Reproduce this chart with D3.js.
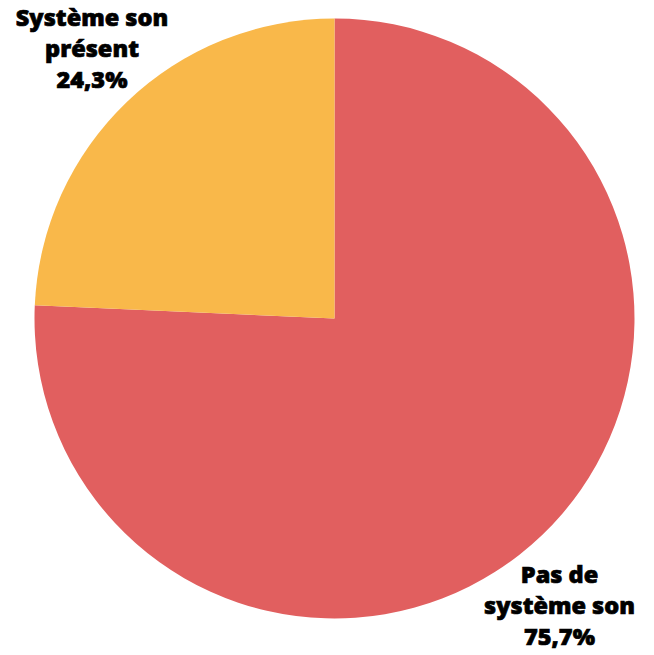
<!DOCTYPE html>
<html><head><meta charset="utf-8">
<script src="https://cdn.jsdelivr.net/npm/d3@7"></script>
<style>body{margin:0;background:#fff}</style>
</head><body>
<svg id="c" width="654" height="655"></svg>
<script>
const categories = ["Pas de système son", "Système son présent"];
const values = [75.7, 24.3];
const colors = ["#E15F5F", "#F9B84A"];
const labelLines = [["Pas de", "système son", "75,7%"], ["Système son", "présent", "24,3%"]];

const svg = d3.select("#c");
const cx = 334.5, cy = 318.5, r = 300;
const pie = d3.pie().sort(null).value(d => d)(values);
const arc = d3.arc().innerRadius(0).outerRadius(r);
const g = svg.append("g").attr("transform", `translate(${cx},${cy})`);
g.selectAll("path").data(pie).join("path")
  .attr("d", arc).attr("fill", (d, i) => colors[i]);

const labelPos = [[559.5, 583], [92, 26]];
labelLines.forEach((lines, i) => {
  const t = svg.append("text").attr("text-anchor", "middle")
    .attr("font-family", "'Open Sans', sans-serif").attr("font-weight", 800)
    .attr("font-size", 23.5).attr("fill", "#000")
    .attr("stroke", "#000").attr("stroke-width", 0.7);
  lines.forEach((l, j) => t.append("tspan").attr("x", labelPos[i][0]).attr("y", labelPos[i][1] + j * 31).text(l));
});
</script>
</body></html>
